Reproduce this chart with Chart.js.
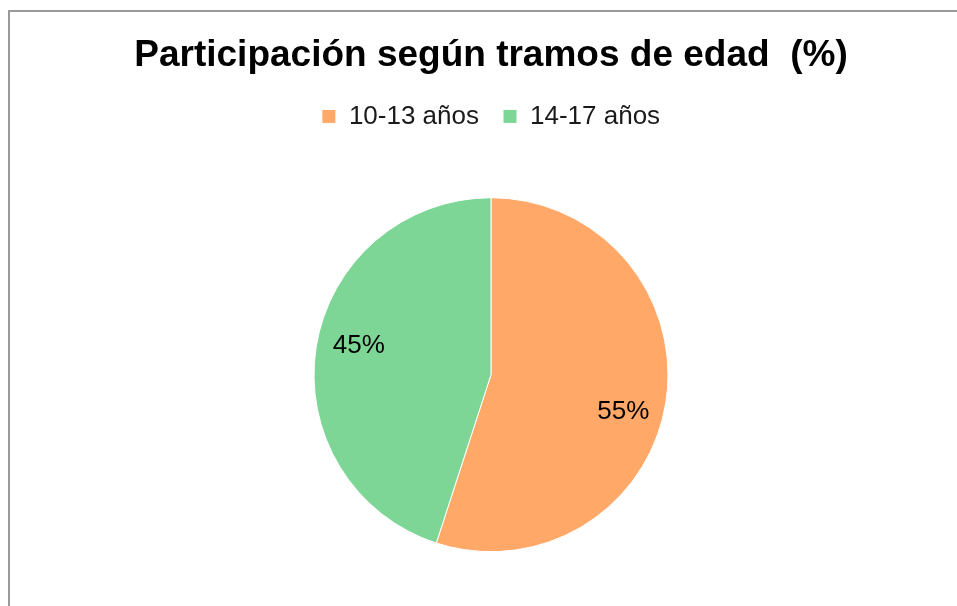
<!DOCTYPE html>
<html>
<head>
<meta charset="utf-8">
<script src="https://cdn.jsdelivr.net/npm/chart.js@4"></script>
<style>
  html, body { margin: 0; padding: 0; width: 957px; height: 606px; overflow: hidden; background: #fff; }
  #frame { position: absolute; left: 8px; top: 10px; width: 960px; height: 610px;
           border-top: 2px solid #9a9a9a; border-left: 2px solid #9a9a9a; }
  #wrap { position: absolute; left: 25px; top: 12px; width: 932px; height: 598px; }
</style>
</head>
<body>
<div id="frame"></div>
<div id="wrap"><canvas id="c"></canvas></div>
<script>
const categories = ["10-13 años", "14-17 años"];
const values = [55, 45];
const colors = ["#FFA868", "#7DD695"];
const titleText = "Participación según tramos de edad  (%)";

const labelPlugin = {
  id: 'sliceLabels',
  afterDatasetsDraw(chart) {
    const ctx = chart.ctx;
    const meta = chart.getDatasetMeta(0);
    ctx.save();
    ctx.font = '26px "Liberation Sans", Arial, sans-serif';
    ctx.fillStyle = '#000';
    ctx.textAlign = 'center';
    ctx.textBaseline = 'middle';
    meta.data.forEach((arc, i) => {
      const p = arc.getProps(['x', 'y', 'startAngle', 'endAngle', 'outerRadius'], true);
      const mid = (p.startAngle + p.endAngle) / 2 + 5 * Math.PI / 180;
      const r = p.outerRadius * 0.77;
      ctx.fillText(values[i] + '%', p.x + r * Math.cos(mid), p.y + r * Math.sin(mid) + 4);
    });
    ctx.restore();
  }
};

new Chart(document.getElementById('c'), {
  type: 'pie',
  data: {
    labels: categories,
    datasets: [{
      data: values,
      backgroundColor: colors,
      borderColor: '#ffffff',
      borderWidth: 1,
      radius: 177
    }]
  },
  options: {
    responsive: true,
    maintainAspectRatio: false,
    animation: false,
    layout: { padding: 0 },
    plugins: {
      title: {
        display: true,
        text: titleText,
        color: '#000',
        font: { family: '"Liberation Sans", Arial, sans-serif', size: 37, weight: 'bold', lineHeight: 1.2 },
        padding: { top: 22, bottom: 1 }
      },
      legend: {
        display: true,
        position: 'top',
        labels: {
          color: '#1a1a1a',
          font: { family: '"Liberation Sans", Arial, sans-serif', size: 26 },
          boxWidth: 14,
          boxHeight: 14,
          padding: 24
        }
      },
      tooltip: { enabled: false }
    }
  },
  plugins: [labelPlugin]
});
</script>
</body>
</html>
